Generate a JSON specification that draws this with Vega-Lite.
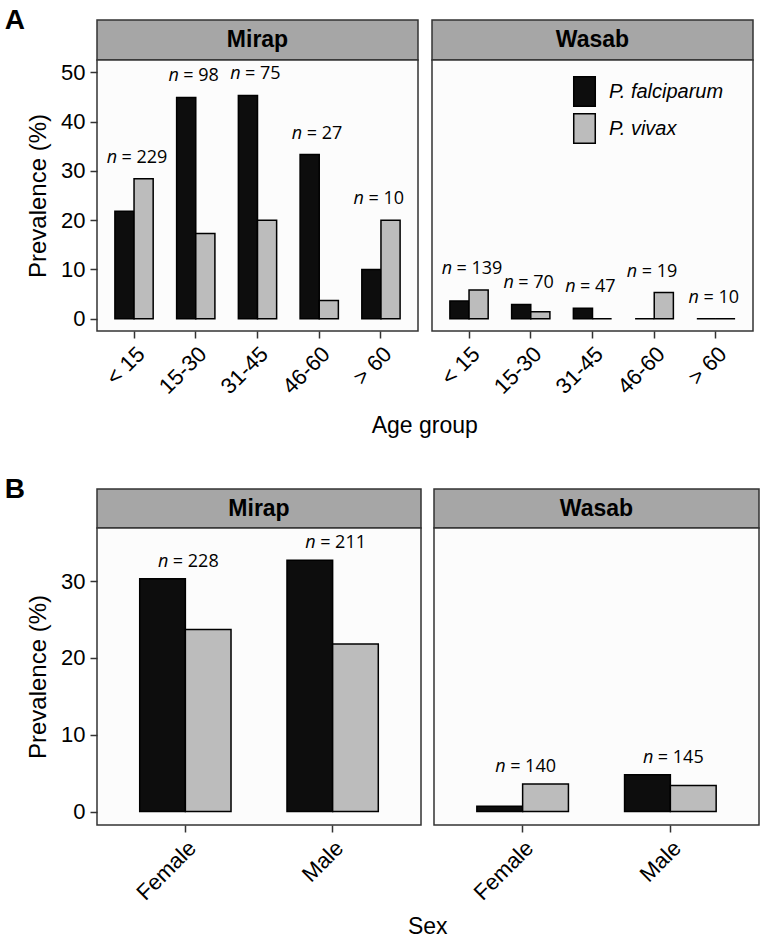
{
  "$schema": "https://vega.github.io/schema/vega-lite/v6.json",
  "padding": {"left": 4, "top": 7, "right": 4, "bottom": 2},
  "background": "white",
  "config": {
    "view": {"stroke": "#333333", "strokeWidth": 1.5, "fill": "#fcfcfc"},
    "axis": {
      "labelFont": "Liberation Sans", "titleFont": "Liberation Sans",
      "labelFontSize": 22, "titleFontSize": 24, "labelColor": "black", "titleColor": "black",
      "titleFontWeight": "normal", "tickColor": "#333333", "tickSize": 7, "tickWidth": 1.5,
      "domain": false, "grid": false, "labelPadding": 5
    }
  },
  "datasets": {
    "age": [
      {"site": "Mirap", "group": "< 15", "species": "P. falciparum", "prev": 21.8, "n": 229, "nlab": "= 229"},
      {"site": "Mirap", "group": "< 15", "species": "P. vivax", "prev": 28.4, "n": 229, "nlab": "= 229"},
      {"site": "Mirap", "group": "15-30", "species": "P. falciparum", "prev": 44.9, "n": 98, "nlab": "= 98"},
      {"site": "Mirap", "group": "15-30", "species": "P. vivax", "prev": 17.3, "n": 98, "nlab": "= 98"},
      {"site": "Mirap", "group": "31-45", "species": "P. falciparum", "prev": 45.3, "n": 75, "nlab": "= 75"},
      {"site": "Mirap", "group": "31-45", "species": "P. vivax", "prev": 20.0, "n": 75, "nlab": "= 75"},
      {"site": "Mirap", "group": "46-60", "species": "P. falciparum", "prev": 33.3, "n": 27, "nlab": "= 27"},
      {"site": "Mirap", "group": "46-60", "species": "P. vivax", "prev": 3.7, "n": 27, "nlab": "= 27"},
      {"site": "Mirap", "group": "> 60", "species": "P. falciparum", "prev": 10.0, "n": 10, "nlab": "= 10"},
      {"site": "Mirap", "group": "> 60", "species": "P. vivax", "prev": 20.0, "n": 10, "nlab": "= 10"},
      {"site": "Wasab", "group": "< 15", "species": "P. falciparum", "prev": 3.6, "n": 139, "nlab": "= 139"},
      {"site": "Wasab", "group": "< 15", "species": "P. vivax", "prev": 5.8, "n": 139, "nlab": "= 139"},
      {"site": "Wasab", "group": "15-30", "species": "P. falciparum", "prev": 2.9, "n": 70, "nlab": "= 70"},
      {"site": "Wasab", "group": "15-30", "species": "P. vivax", "prev": 1.4, "n": 70, "nlab": "= 70"},
      {"site": "Wasab", "group": "31-45", "species": "P. falciparum", "prev": 2.1, "n": 47, "nlab": "= 47"},
      {"site": "Wasab", "group": "31-45", "species": "P. vivax", "prev": 0.0, "n": 47, "nlab": "= 47"},
      {"site": "Wasab", "group": "46-60", "species": "P. falciparum", "prev": 0.0, "n": 19, "nlab": "= 19"},
      {"site": "Wasab", "group": "46-60", "species": "P. vivax", "prev": 5.3, "n": 19, "nlab": "= 19"},
      {"site": "Wasab", "group": "> 60", "species": "P. falciparum", "prev": 0.0, "n": 10, "nlab": "= 10"},
      {"site": "Wasab", "group": "> 60", "species": "P. vivax", "prev": 0.0, "n": 10, "nlab": "= 10"}
    ],
    "sex": [
      {"site": "Mirap", "group": "Female", "species": "P. falciparum", "prev": 30.3, "n": 228, "nlab": "= 228"},
      {"site": "Mirap", "group": "Female", "species": "P. vivax", "prev": 23.7, "n": 228, "nlab": "= 228"},
      {"site": "Mirap", "group": "Male", "species": "P. falciparum", "prev": 32.7, "n": 211, "nlab": "= 211"},
      {"site": "Mirap", "group": "Male", "species": "P. vivax", "prev": 21.8, "n": 211, "nlab": "= 211"},
      {"site": "Wasab", "group": "Female", "species": "P. falciparum", "prev": 0.7, "n": 140, "nlab": "= 140"},
      {"site": "Wasab", "group": "Female", "species": "P. vivax", "prev": 3.6, "n": 140, "nlab": "= 140"},
      {"site": "Wasab", "group": "Male", "species": "P. falciparum", "prev": 4.8, "n": 145, "nlab": "= 145"},
      {"site": "Wasab", "group": "Male", "species": "P. vivax", "prev": 3.4, "n": 145, "nlab": "= 145"}
    ]
  },
  "spacing": 37,
  "resolve": {"scale": {"x": "independent", "y": "independent", "xOffset": "independent", "color": "independent"}, "legend": {"color": "independent"}},
  "vconcat": [
    {
      "title": {"text": "A", "anchor": "start", "frame": "bounds", "orient": "top", "offset": -30, "baseline": "middle", "dx": -21, "fontSize": 28, "fontWeight": "bold", "font": "Liberation Sans", "color": "black"},
      "resolve": {"scale": {"x": "independent", "y": "independent", "xOffset": "independent", "color": "independent"}, "legend": {"color": "independent"}},
      "hconcat": [
        {
          "title": {"text": "Age group", "orient": "bottom", "anchor": "middle", "frame": "bounds", "offset": 17, "dx": 35, "fontSize": 23, "fontWeight": "normal", "font": "Liberation Sans", "color": "black"},
          "spacing": 12,
          "resolve": {"scale": {"x": "independent", "y": "independent", "xOffset": "independent", "color": "independent"}, "legend": {"color": "independent"}},
          "hconcat": [
            {
              "spacing": 0, "bounds": "flush",
              "resolve": {"scale": {"x": "independent", "y": "independent", "xOffset": "independent", "color": "independent"}, "legend": {"color": "independent"}},
              "vconcat": [
                {
                  "width": 321, "height": 40,
                  "view": {"fill": "#a6a6a6", "stroke": "#333333", "strokeWidth": 1.5},
                  "data": {"values": [{"site": "Mirap"}]},
                  "mark": {"type": "text", "font": "Liberation Sans", "fontSize": 23, "fontWeight": "bold", "color": "black", "baseline": "middle", "align": "center"},
                  "encoding": {"text": {"field": "site"}}
                },
                {
                  "width": 321, "height": 271,
                  "data": {"name": "age"},
                  "transform": [{"filter": "datum.site === 'Mirap'"}],
                  "encoding": {
                    "x": {"field": "group", "type": "nominal", "sort": ["< 15", "15-30", "31-45", "46-60", "> 60"], "scale": {"paddingInner": 0.38, "paddingOuter": 0.29}, "axis": {"labelAngle": -45, "title": null}},
                    "y": {"field": "prev", "type": "quantitative", "scale": {"domain": [-2.5, 52.5], "nice": false, "zero": false}, "axis": {"values": [0, 10, 20, 30, 40, 50], "title": "Prevalence (%)", "titlePadding": 10}}
                  },
                  "layer": [
                    {
                      "mark": {"type": "bar", "stroke": "black", "strokeWidth": 1.5},
                      "encoding": {
                        "xOffset": {"field": "species", "type": "nominal", "sort": ["P. falciparum", "P. vivax"], "scale": {"paddingInner": 0, "paddingOuter": 0}},
                        "color": {"field": "species", "type": "nominal", "scale": {"domain": ["P. falciparum", "P. vivax"], "range": ["#0d0d0d", "#bcbcbc"]}, "legend": null}
                      }
                    },
                    {
                      "transform": [{"aggregate": [{"op": "max", "field": "prev", "as": "prev"}], "groupby": ["group", "nlab"]}],
                      "mark": {"type": "text", "text": "n", "font": "Open Sans", "fontStyle": "italic", "fontSize": 18, "color": "black", "align": "right", "baseline": "middle", "dx": -17, "dy": -21}
                    },
                    {
                      "transform": [{"aggregate": [{"op": "max", "field": "prev", "as": "prev"}], "groupby": ["group", "nlab"]}],
                      "mark": {"type": "text", "font": "Open Sans", "fontSize": 18, "color": "black", "align": "left", "baseline": "middle", "dx": -12.5, "dy": -21},
                      "encoding": {"text": {"field": "nlab"}}
                    }
                  ]
                }
              ]
            },
            {
              "spacing": 0, "bounds": "flush",
              "resolve": {"scale": {"x": "independent", "y": "independent", "xOffset": "independent", "color": "independent"}, "legend": {"color": "independent"}},
              "vconcat": [
                {
                  "width": 321, "height": 40,
                  "view": {"fill": "#a6a6a6", "stroke": "#333333", "strokeWidth": 1.5},
                  "data": {"values": [{"site": "Wasab"}]},
                  "mark": {"type": "text", "font": "Liberation Sans", "fontSize": 23, "fontWeight": "bold", "color": "black", "baseline": "middle", "align": "center"},
                  "encoding": {"text": {"field": "site"}}
                },
                {
                  "width": 321, "height": 271,
                  "data": {"name": "age"},
                  "transform": [{"filter": "datum.site === 'Wasab'"}],
                  "encoding": {
                    "x": {"field": "group", "type": "nominal", "sort": ["< 15", "15-30", "31-45", "46-60", "> 60"], "scale": {"paddingInner": 0.38, "paddingOuter": 0.29}, "axis": {"labelAngle": -45, "title": null}},
                    "y": {"field": "prev", "type": "quantitative", "scale": {"domain": [-2.5, 52.5], "nice": false, "zero": false}, "axis": null}
                  },
                  "layer": [
                    {
                      "mark": {"type": "bar", "stroke": "black", "strokeWidth": 1.5},
                      "encoding": {
                        "xOffset": {"field": "species", "type": "nominal", "sort": ["P. falciparum", "P. vivax"], "scale": {"paddingInner": 0, "paddingOuter": 0}},
                        "color": {"field": "species", "type": "nominal", "scale": {"domain": ["P. falciparum", "P. vivax"], "range": ["#0d0d0d", "#bcbcbc"]},
                          "legend": {"title": null, "orient": "none", "legendX": 137, "legendY": 16, "symbolType": "M-0.73,-1H0.73V1H-0.73Z", "symbolSize": 870, "symbolStrokeColor": "black", "symbolStrokeWidth": 1.5, "symbolOpacity": 1, "rowPadding": 0, "labelFont": "Liberation Sans", "labelFontSize": 20, "labelFontStyle": "italic", "labelColor": "black", "labelOffset": 9, "padding": 0}}
                      }
                    },
                    {
                      "transform": [{"aggregate": [{"op": "max", "field": "prev", "as": "prev"}], "groupby": ["group", "nlab"]}],
                      "mark": {"type": "text", "text": "n", "font": "Open Sans", "fontStyle": "italic", "fontSize": 18, "color": "black", "align": "right", "baseline": "middle", "dx": -17, "dy": -21}
                    },
                    {
                      "transform": [{"aggregate": [{"op": "max", "field": "prev", "as": "prev"}], "groupby": ["group", "nlab"]}],
                      "mark": {"type": "text", "font": "Open Sans", "fontSize": 18, "color": "black", "align": "left", "baseline": "middle", "dx": -12.5, "dy": -21},
                      "encoding": {"text": {"field": "nlab"}}
                    }
                  ]
                }
              ]
            }
          ]
        }
      ]
    },
    {
      "title": {"text": "B", "anchor": "start", "frame": "bounds", "orient": "top", "offset": -30, "baseline": "middle", "dx": -21, "fontSize": 28, "fontWeight": "bold", "font": "Liberation Sans", "color": "black"},
      "resolve": {"scale": {"x": "independent", "y": "independent", "xOffset": "independent", "color": "independent"}, "legend": {"color": "independent"}},
      "hconcat": [
        {
          "title": {"text": "Sex", "orient": "bottom", "anchor": "middle", "frame": "bounds", "offset": 12, "dx": 35, "fontSize": 23, "fontWeight": "normal", "font": "Liberation Sans", "color": "black"},
          "spacing": 11,
          "resolve": {"scale": {"x": "independent", "y": "independent", "xOffset": "independent", "color": "independent"}, "legend": {"color": "independent"}},
          "hconcat": [
            {
              "spacing": 0, "bounds": "flush",
              "resolve": {"scale": {"x": "independent", "y": "independent", "xOffset": "independent", "color": "independent"}, "legend": {"color": "independent"}},
              "vconcat": [
                {
                  "width": 324, "height": 39,
                  "view": {"fill": "#a6a6a6", "stroke": "#333333", "strokeWidth": 1.5},
                  "data": {"values": [{"site": "Mirap"}]},
                  "mark": {"type": "text", "font": "Liberation Sans", "fontSize": 23, "fontWeight": "bold", "color": "black", "baseline": "middle", "align": "center"},
                  "encoding": {"text": {"field": "site"}}
                },
                {
                  "width": 324, "height": 297,
                  "data": {"name": "sex"},
                  "transform": [{"filter": "datum.site === 'Mirap'"}],
                  "encoding": {
                    "x": {"field": "group", "type": "nominal", "sort": ["Female", "Male"], "scale": {"paddingInner": 0.38, "paddingOuter": 0.29}, "axis": {"labelAngle": -45, "title": null}},
                    "y": {"field": "prev", "type": "quantitative", "scale": {"domain": [-1.75, 36.9], "nice": false, "zero": false}, "axis": {"values": [0, 10, 20, 30], "title": "Prevalence (%)", "titlePadding": 10}}
                  },
                  "layer": [
                    {
                      "mark": {"type": "bar", "stroke": "black", "strokeWidth": 1.5},
                      "encoding": {
                        "xOffset": {"field": "species", "type": "nominal", "sort": ["P. falciparum", "P. vivax"], "scale": {"paddingInner": 0, "paddingOuter": 0}},
                        "color": {"field": "species", "type": "nominal", "scale": {"domain": ["P. falciparum", "P. vivax"], "range": ["#0d0d0d", "#bcbcbc"]}, "legend": null}
                      }
                    },
                    {
                      "transform": [{"aggregate": [{"op": "max", "field": "prev", "as": "prev"}], "groupby": ["group", "nlab"]}],
                      "mark": {"type": "text", "text": "n", "font": "Open Sans", "fontStyle": "italic", "fontSize": 18, "color": "black", "align": "right", "baseline": "middle", "dx": -17, "dy": -17}
                    },
                    {
                      "transform": [{"aggregate": [{"op": "max", "field": "prev", "as": "prev"}], "groupby": ["group", "nlab"]}],
                      "mark": {"type": "text", "font": "Open Sans", "fontSize": 18, "color": "black", "align": "left", "baseline": "middle", "dx": -12.5, "dy": -17},
                      "encoding": {"text": {"field": "nlab"}}
                    }
                  ]
                }
              ]
            },
            {
              "spacing": 0, "bounds": "flush",
              "resolve": {"scale": {"x": "independent", "y": "independent", "xOffset": "independent", "color": "independent"}, "legend": {"color": "independent"}},
              "vconcat": [
                {
                  "width": 325, "height": 39,
                  "view": {"fill": "#a6a6a6", "stroke": "#333333", "strokeWidth": 1.5},
                  "data": {"values": [{"site": "Wasab"}]},
                  "mark": {"type": "text", "font": "Liberation Sans", "fontSize": 23, "fontWeight": "bold", "color": "black", "baseline": "middle", "align": "center"},
                  "encoding": {"text": {"field": "site"}}
                },
                {
                  "width": 325, "height": 297,
                  "data": {"name": "sex"},
                  "transform": [{"filter": "datum.site === 'Wasab'"}],
                  "encoding": {
                    "x": {"field": "group", "type": "nominal", "sort": ["Female", "Male"], "scale": {"paddingInner": 0.38, "paddingOuter": 0.29}, "axis": {"labelAngle": -45, "title": null}},
                    "y": {"field": "prev", "type": "quantitative", "scale": {"domain": [-1.75, 36.9], "nice": false, "zero": false}, "axis": null}
                  },
                  "layer": [
                    {
                      "mark": {"type": "bar", "stroke": "black", "strokeWidth": 1.5},
                      "encoding": {
                        "xOffset": {"field": "species", "type": "nominal", "sort": ["P. falciparum", "P. vivax"], "scale": {"paddingInner": 0, "paddingOuter": 0}},
                        "color": {"field": "species", "type": "nominal", "scale": {"domain": ["P. falciparum", "P. vivax"], "range": ["#0d0d0d", "#bcbcbc"]}, "legend": null}
                      }
                    },
                    {
                      "transform": [{"aggregate": [{"op": "max", "field": "prev", "as": "prev"}], "groupby": ["group", "nlab"]}],
                      "mark": {"type": "text", "text": "n", "font": "Open Sans", "fontStyle": "italic", "fontSize": 18, "color": "black", "align": "right", "baseline": "middle", "dx": -17, "dy": -17}
                    },
                    {
                      "transform": [{"aggregate": [{"op": "max", "field": "prev", "as": "prev"}], "groupby": ["group", "nlab"]}],
                      "mark": {"type": "text", "font": "Open Sans", "fontSize": 18, "color": "black", "align": "left", "baseline": "middle", "dx": -12.5, "dy": -17},
                      "encoding": {"text": {"field": "nlab"}}
                    }
                  ]
                }
              ]
            }
          ]
        }
      ]
    }
  ]
}
